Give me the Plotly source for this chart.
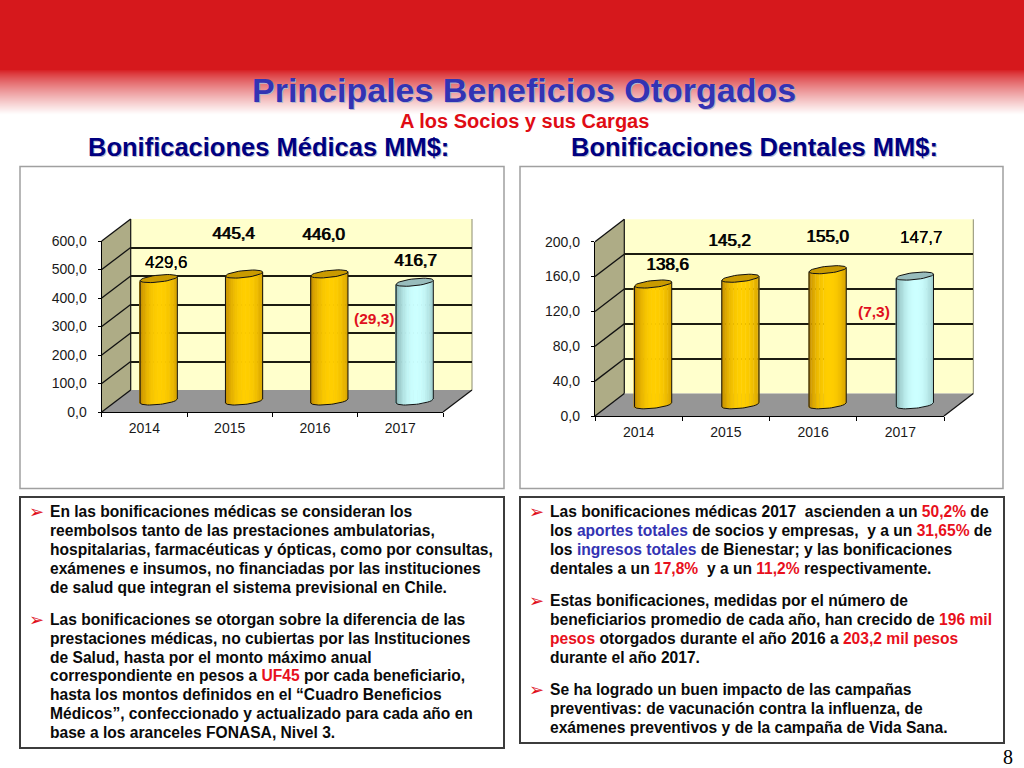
import math
import plotly.graph_objects as go

W, H = 1024, 768

# ---------- data ----------
years = ["2014", "2015", "2016", "2017"]
medicas = [429.6, 445.4, 446.0, 416.7]
dentales = [138.6, 145.2, 155.0, 147.7]
medicas_ticks = [0, 100, 200, 300, 400, 500, 600]
dentales_ticks = [0, 40, 80, 120, 160, 200]
medicas_delta = "(29,3)"
dentales_delta = "(7,3)"
title_text = "Principales Beneficios Otorgados"
subtitle_text = "A los Socios y sus Cargas"
head_left = "Bonificaciones Médicas MM$:"
head_right = "Bonificaciones Dentales MM$:"
R = '<span style="color:#e8101c">'
B = '<span style="color:#3333b3">'
E = '</span>'
left_par1 = [
    "En las bonificaciones médicas se consideran los",
    "reembolsos tanto de las prestaciones ambulatorias,",
    "hospitalarias, farmacéuticas y ópticas, como por consultas,",
    "exámenes e insumos, no financiadas por las instituciones",
    "de salud que integran el sistema previsional en Chile.",
]
left_par2 = [
    "Las bonificaciones se otorgan sobre la diferencia de las",
    "prestaciones médicas, no cubiertas por las Instituciones",
    "de Salud, hasta por el monto máximo anual",
    f"correspondiente en pesos a {R}UF45{E} por cada beneficiario,",
    "hasta los montos definidos en el “Cuadro Beneficios",
    "Médicos”, confeccionado y actualizado para cada año en",
    "base a los aranceles FONASA, Nivel 3.",
]
right_par1 = [
    f"Las bonificaciones médicas 2017  ascienden a un {R}50,2%{E} de",
    f"los {B}aportes totales{E} de socios y empresas,  y a un {R}31,65%{E} de",
    f"los {B}ingresos totales{E} de Bienestar; y las bonificaciones",
    f"dentales a un {R}17,8%{E}  y a un {R}11,2%{E} respectivamente.",
]
right_par2 = [
    "Estas bonificaciones, medidas por el número de",
    f"beneficiarios promedio de cada año, han crecido de {R}196 mil{E}",
    f"{R}pesos{E} otorgados durante el año 2016 a {R}203,2 mil pesos{E}",
    "durante el año 2017.",
]
right_par3 = [
    "Se ha logrado un buen impacto de las campañas",
    "preventivas: de vacunación contra la influenza, de",
    "exámenes preventivos y de la campaña de Vida Sana.",
]

# ---------- helpers ----------
FONT = "Liberation Sans"
def px(x): return x / W
def py(y): return 1 - y / H

shapes, annots = [], []

def rect(x0, y0, x1, y1, fill=None, line=None, lw=1):
    shapes.append(dict(type="rect", xref="paper", yref="paper", layer="below",
                       x0=px(x0), x1=px(x1), y0=py(y0), y1=py(y1),
                       fillcolor=fill or "rgba(0,0,0,0)",
                       line=dict(color=line or "rgba(0,0,0,0)", width=lw if line else 0)))

def poly(pts, fill, line=None, lw=1):
    d = "M " + " L ".join(f"{px(a):.5f} {py(b):.5f}" for a, b in pts) + " Z"
    shapes.append(dict(type="path", xref="paper", yref="paper", layer="below", path=d,
                       fillcolor=fill, line=dict(color=line or "rgba(0,0,0,0)", width=lw if line else 0)))

def seg(x0, y0, x1, y1, color="#111111", lw=1.3):
    shapes.append(dict(type="line", xref="paper", yref="paper", layer="below",
                       x0=px(x0), x1=px(x1), y0=py(y0), y1=py(y1), line=dict(color=color, width=lw)))

def text(x, y, s, size, color="#000000", anchor="center", family=FONT):
    annots.append(dict(x=px(x), y=py(y), xref="paper", yref="paper", text=s, showarrow=False,
                       xanchor=anchor, yanchor="middle", align="left",
                       font=dict(family=family, size=size, color=color), borderpad=0, borderwidth=0))

def mix(c0, c1, t):
    return "rgb(%d,%d,%d)" % tuple(round(a + (b - a) * t) for a, b in zip(c0, c1))

# ---------- header band ----------
rect(0, 0, W, 69, fill="#d6181c")
for yy in range(69, 114):
    t = (yy - 69) / 45
    rect(0, yy, W, yy + 1.2, fill=mix((214, 24, 28), (255, 255, 255), t ** 0.8))

# ---------- panels ----------
rect(20, 166.5, 504, 488.5, fill="#ffffff", line="#a0a0a0", lw=1.5)
rect(520, 166.5, 1003, 488.5, fill="#ffffff", line="#a0a0a0", lw=1.5)
rect(20, 497, 504, 748, fill="#ffffff", line="#3c3c3c", lw=2)
rect(520, 497, 1004, 743, fill="#ffffff", line="#3c3c3c", lw=2)

fig = go.Figure()
layout_axes = {}
GOLD_C, GOLD_E, GOLD_T = (255, 206, 0), (190, 135, 0), "#c99a00"
ICE_C, ICE_E, ICE_T = (204, 255, 255), (130, 175, 175), "#98bcbc"

def chart(base, values, ticks, fx0, fx1, fy0, fytop, dx, dy, label_pos, delta, delta_pos):
    ymax = ticks[-1]
    ppu = (fy0 - fytop) / ymax
    slot = (fx1 - fx0) / len(years)
    # walls and floor
    poly([(fx0, fy0), (fx0 + dx, fy0 + dy), (fx0 + dx, fytop + dy), (fx0, fytop)], "#aeac86")
    rect(fx0 + dx, fytop + dy, fx1 + dx, fy0 + dy, fill="#ffffcc")
    poly([(fx0, fy0), (fx1, fy0), (fx1 + dx, fy0 + dy), (fx0 + dx, fy0 + dy)], "#969696")
    seg(fx1 + dx, fytop + dy, fx1 + dx, fy0 + dy, "#8c8c70", 1)
    seg(fx1, fy0, fx1 + dx, fy0 + dy, "#111111", 1.2)
    for v in ticks:
        yy = fy0 - v * ppu
        seg(fx0, yy, fx0 + dx, yy + dy)
    seg(fx0 + dx, fytop + dy, fx0 + dx, fy0 + dy, "#111111", 1.2)

    idx = list(range(len(years)))
    a1, a2, a3 = [str(base + k + 1) if base + k > 0 else "" for k in range(3)]
    rng = [-0.5, len(years) - 0.5]
    # front axes: tick labels
    layout_axes[f"xaxis{a1}"] = dict(domain=[px(fx0), px(fx1)], range=rng, anchor=f"y{a1}", automargin=False,
        tickvals=idx, ticktext=years, ticks="", showgrid=False, zeroline=False, showline=True,
        linecolor="#000000", linewidth=1.3, ticklabelstandoff=3,
        tickfont=dict(family=FONT, size=14, color="#1a1a1a"),
        minor=dict(tickvals=[i - 0.5 for i in range(len(years) + 1)], ticks="outside",
                   ticklen=4, tickcolor="#000000", tickwidth=1))
    layout_axes[f"yaxis{a1}"] = dict(domain=[py(fy0), py(fytop)], range=[0, ymax], anchor=f"x{a1}", automargin=False,
        tickvals=ticks, ticktext=[f"{v:.1f}".replace(".", ",") for v in ticks], ticks="outside",
        ticklen=3, tickcolor="#000000", showgrid=False, zeroline=False, showline=True,
        linecolor="#000000", linewidth=1.3, ticklabelstandoff=8,
        tickfont=dict(family=FONT, size=14, color="#1a1a1a"))
    # back wall: gridlines
    layout_axes[f"xaxis{a2}"] = dict(domain=[px(fx0 + dx), px(fx1 + dx)], range=rng, anchor=f"y{a2}",
        visible=False, automargin=False)
    layout_axes[f"yaxis{a2}"] = dict(domain=[py(fy0 + dy), py(fytop + dy)], range=[0, ymax], anchor=f"x{a2}",
        tickvals=ticks, showticklabels=False, ticks="", showgrid=True, gridcolor="#1c1c10", automargin=False,
        gridwidth=1.6, zeroline=False, showline=False)
    # invisible traces so that the two axis pairs exist
    for a in (a1, a2):
        fig.add_scatter(x=idx, y=values, mode="markers", marker=dict(opacity=0, size=1),
                        xaxis=f"x{a}", yaxis=f"y{a}", showlegend=False, hoverinfo="skip")
    # bars: half depth, with room under zero for the rounded base
    ext = 30
    sx, sy = dx * 0.495, dy * 0.5
    layout_axes[f"xaxis{a3}"] = dict(domain=[px(fx0 + sx), px(fx1 + sx)], range=rng, anchor=f"y{a3}",
        visible=False, automargin=False)
    layout_axes[f"yaxis{a3}"] = dict(domain=[py(fy0 + sy + ext), py(fytop + sy)], automargin=False,
        range=[-ext / ppu, ymax], anchor=f"x{a3}", visible=False)

    N, a, b, tilt = 28, 18.6 / slot, 3.5, 2.0
    bx, by, bbase, bw, bc = [], [], [], [], []
    ox, oy = [], []
    for i, v in zip(idx, values):
        c, e, top = (ICE_C, ICE_E, ICE_T) if i == len(years) - 1 else (GOLD_C, GOLD_E, GOLD_T)
        for k in range(N):
            u = (k + 0.5) / N * 2 - 1
            bx.append(i + u * a)
            by.append(v)
            bbase.append((-b * math.sqrt(1 - u * u) + tilt * u) / ppu)
            bw.append(2 * a / N + 0.003)
            bc.append(mix(c, e, min(1, abs(u - 0.12) / 1.12) ** 2.2))
        # silhouette
        steps = [j / 20 * 2 - 1 for j in range(21)]
        ox += [i - a, i - a] + [i + u * a for u in steps] + [i + a, i + a, None]
        oy += [v - tilt / ppu, -tilt / ppu] + [(-b * math.sqrt(max(0, 1 - u * u)) + tilt * u) / ppu for u in steps] \
              + [tilt / ppu, v + tilt / ppu, None]
    fig.add_bar(x=bx, y=by, base=bbase, width=bw, marker=dict(color=bc, line=dict(width=0)),
                xaxis=f"x{a3}", yaxis=f"y{a3}", showlegend=False, hoverinfo="skip")
    fig.add_scatter(x=ox, y=oy, mode="lines", line=dict(color="#111111", width=1),
                    xaxis=f"x{a3}", yaxis=f"y{a3}", showlegend=False, hoverinfo="skip")
    for i, v in zip(idx, values):
        top = ICE_T if i == len(years) - 1 else GOLD_T
        th = [j / 40 * 2 * math.pi for j in range(41)]
        ex = [i + a * math.cos(t) for t in th]
        ey = [v + (b * math.sin(t) + tilt * math.cos(t)) / ppu for t in th]
        fig.add_scatter(x=ex, y=ey, mode="lines", fill="toself", fillcolor=top,
                        line=dict(color="#111111", width=1), xaxis=f"x{a3}", yaxis=f"y{a3}",
                        showlegend=False, hoverinfo="skip")
    for v, (lx, ly) in zip(values, label_pos):
        s = f"{v:.1f}".replace(".", ",")
        text(lx - 0.2, ly, s, 17)
        text(lx + 0.2, ly, s, 17)
    text(delta_pos[0], delta_pos[1], f"<b>{delta}</b>", 15.5, "#e01020")

chart(0, medicas, medicas_ticks, 101.7, 443, 412, 241, 29, -22,
      [(166.7, 262.5), (234, 233), (324, 234.5), (416, 260)], medicas_delta, (374, 319))
chart(3, dentales, dentales_ticks, 595, 944, 416, 241.7, 29.3, -22.4,
      [(668, 264), (730, 241), (828, 236), (921.7, 238)], dentales_delta, (874, 311))

# ---------- titles ----------
text(525.2, 91.2, f"<b>{title_text}</b>", 34, "#b8b8cc")
text(524, 90, f"<b>{title_text}</b>", 34, "#3333b3")
text(524, 121, f"<b>{subtitle_text}</b>", 20, "#e00c14")
text(269.5, 147.8, f"<b>{head_left}</b>", 25.5, "#c0c0d0")
text(268.5, 147, f"<b>{head_left}</b>", 25.5, "#000080")
text(755, 147.8, f"<b>{head_right}</b>", 25.5, "#c0c0d0")
text(754, 147, f"<b>{head_right}</b>", 25.5, "#000080")

# ---------- bullet texts ----------
BODY = 15.6
def para(lines, y0, xt=50, xb=36.5):
    text(xb, y0, "➢", 18, "#e0101c", family="DejaVu Sans")
    for n, s in enumerate(lines):
        text(xt, y0 + n * 18.85, f"<b>{s}</b>", BODY, "#0a0a0a", anchor="left")

para(left_par1, 511.7)
para(left_par2, 619.3)
para(right_par1, 511.7, xt=550, xb=536.5)
para(right_par2, 600.7, xt=550, xb=536.5)
para(right_par3, 689.3, xt=550, xb=536.5)
text(1008, 756.5, "8", 20, "#000000", family="Liberation Serif")

fig.update_layout(template="none", width=W, height=H, autosize=False, margin=dict(l=0, r=0, t=0, b=0, pad=0),
                  paper_bgcolor="#ffffff", plot_bgcolor="rgba(0,0,0,0)", barmode="overlay",
                  showlegend=False, shapes=shapes, annotations=annots, **layout_axes)

fig.write_html("out.html", config=dict(displayModeBar=False),
               post_script="document.body.style.margin='0';document.documentElement.style.overflow='hidden';")
